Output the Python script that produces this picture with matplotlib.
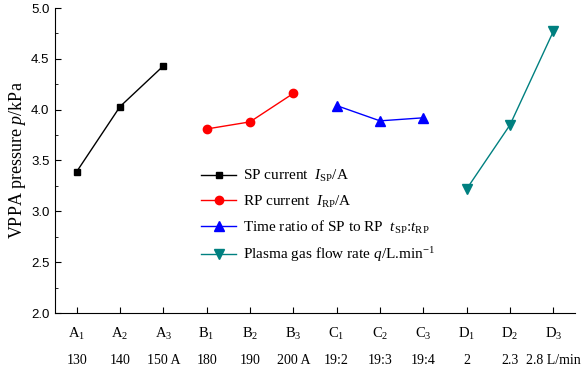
import matplotlib.pyplot as plt
import numpy as np

plt.rcParams['mathtext.fontset'] = 'custom'
plt.rcParams['mathtext.rm'] = 'Liberation Serif'
plt.rcParams['mathtext.it'] = 'Liberation Serif:italic'

levels = ['A$_1$', 'A$_2$', 'A$_3$', 'B$_1$', 'B$_2$', 'B$_3$',
          'C$_1$', 'C$_2$', 'C$_3$', 'D$_1$', 'D$_2$', 'D$_3$']
values_row = ['130', '140', '150 A', '180', '190', '200 A',
              '19:2', '19:3', '19:4', '2', '2.3', '2.8 L/min']

sp_current = [3.39, 4.03, 4.43]
rp_current = [3.81, 3.88, 4.16]
time_ratio = [4.04, 3.89, 3.92]
gas_flow = [3.22, 3.85, 4.77]

x = np.arange(1, len(levels) + 1)

fig = plt.figure(figsize=(5.81, 3.73), dpi=100)
ax = fig.add_axes([55/581, 60/373, 520/581, 305/373])

ax.plot(x[0:3], sp_current, color='black', marker='s', markersize=5, lw=1,
        label='SP current  $I_{\\mathrm{SP}}$/A')
ax.plot(x[3:6], rp_current, color='red', marker='o', markersize=6, lw=1,
        label='RP current  $I_{\\mathrm{RP}}$/A')
ax.plot(x[6:9], time_ratio, color='blue', marker='^', markersize=6.5, lw=1,
        label='Time ratio of SP to RP  $t_{\\mathrm{SP}}$:$t_{\\mathrm{RP}}$')
ax.plot(x[9:12], gas_flow, color='#008080', marker='v', markersize=6.5, lw=1,
        label='Plasma gas flow rate $q$/L.min$^{-1}$')

ax.set_xlim(0.5, 12.5)
ax.set_ylim(2.0, 5.0)
ax.set_xticks(x)
ax.set_xticklabels(levels, fontfamily='Liberation Serif', fontsize=10.5)
ax.set_yticks(np.arange(2.0, 5.01, 0.5))
ax.set_yticklabels(['%.1f' % v for v in np.arange(2.0, 5.01, 0.5)],
                   fontfamily='Liberation Sans', fontsize=9.5)
ax.set_yticks(np.arange(2.25, 5.0, 0.5), minor=True)

ax.tick_params(axis='both', which='both', direction='in')
ax.tick_params(axis='x', which='major', length=4, pad=9)
ax.tick_params(axis='y', which='major', length=4, pad=4)
ax.tick_params(axis='y', which='minor', length=2.5)

ax.spines['top'].set_visible(False)
ax.spines['right'].set_visible(False)

# second row of level values under the tick labels
for i in range(len(x)):
    ax.text(x[i], -0.157, values_row[i], transform=ax.get_xaxis_transform(),
            ha='center', va='center', fontfamily='Liberation Serif', fontsize=10)

ax.set_ylabel('VPPA pressure $p$/kPa', fontfamily='Liberation Serif', fontsize=13, labelpad=2)

ax.legend(loc='upper left', bbox_to_anchor=(0.255, 0.52), frameon=False,
          prop={'family': 'Liberation Serif', 'size': 11},
          handlelength=2.3, handletextpad=0.4, labelspacing=0.6)

fig.savefig('out.png', dpi=100)
